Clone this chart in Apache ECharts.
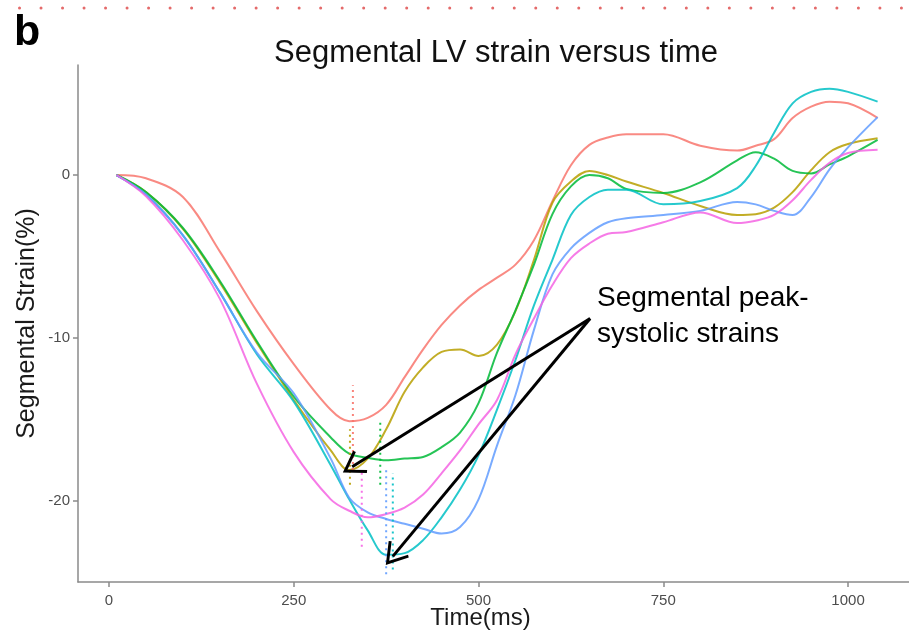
<!DOCTYPE html>
<html>
<head>
<meta charset="utf-8">
<script src="https://cdn.jsdelivr.net/npm/echarts@6/dist/echarts.min.js"></script>
<style>
html,body{margin:0;padding:0;background:#fff;}
#chart{width:909px;height:630px;}
</style>
</head>
<body>
<div id="chart"></div>
<script>
// ---- data ----
var times = [10,50,100,150,200,250,300,325,350,375,400,425,450,475,500,525,550,575,600,625,650,675,700,750,800,850,875,900,925,950,975,1000,1040];
var segNames = ['seg1','seg2','seg3','seg4','seg5','seg6'];
var segRed     = [0,-0.2,-1.35,-4.7,-8.35,-11.6,-14.4,-15.1,-14.9,-14.1,-12.4,-10.7,-9.2,-8.0,-7.05,-6.3,-5.5,-4.0,-1.6,0.6,1.85,2.3,2.5,2.5,1.8,1.5,1.8,2.2,3.5,4.2,4.5,4.4,3.5];
var segOlive   = [0,-1.05,-3.3,-6.6,-10.3,-13.8,-16.9,-18.1,-17.4,-15.6,-13.3,-11.8,-10.85,-10.7,-11.1,-10.4,-8.35,-5.2,-1.7,-0.4,0.25,0,-0.4,-1.1,-1.9,-2.45,-2.4,-2.0,-1.05,0.3,1.4,1.9,2.25];
var segGreen   = [0,-1.05,-3.25,-6.5,-10.2,-13.6,-16.1,-17.1,-17.35,-17.5,-17.4,-17.3,-16.7,-15.8,-14.0,-10.9,-8.3,-5.5,-2.4,-0.7,0,-0.2,-0.85,-1.1,-0.45,0.9,1.4,1.0,0.25,0.1,0.65,1.15,2.15];
var segCyan    = [0,-1.2,-3.7,-7.2,-11.0,-13.9,-17.8,-19.9,-21.8,-23.3,-23.2,-22.4,-21.0,-19.3,-17.2,-14.4,-11.35,-8.0,-5.2,-2.45,-1.35,-0.9,-0.9,-1.8,-1.6,-0.8,0.55,2.6,4.4,5.1,5.3,5.1,4.5];
var segBlue    = [0,-1.2,-3.7,-7.2,-10.9,-13.4,-17.4,-19.8,-20.7,-21.1,-21.4,-21.7,-22.0,-21.6,-19.9,-16.6,-13.5,-9.5,-6.1,-4.5,-3.55,-2.9,-2.65,-2.45,-2.2,-1.65,-1.8,-2.2,-2.45,-1.35,0.35,1.7,3.55];
var segMagenta = [0,-1.3,-4.0,-7.6,-12.8,-17.0,-19.9,-20.6,-21.0,-20.8,-20.4,-19.6,-18.3,-16.9,-15.3,-13.8,-11.0,-8.8,-6.75,-5.1,-4.2,-3.6,-3.5,-2.9,-2.3,-2.95,-2.8,-2.45,-1.55,-0.3,0.75,1.35,1.55];
// peak-systolic markers (time, low, high) per segment
var peakTime = [330, 326, 367, 384, 375, 342];
var peakLow  = [-18.1, -19.0, -19.0, -24.2, -24.5, -22.8];
var peakHigh = [-12.9, -15.6, -15.0, -18.3, -18.1, -18.1];
var xTicks = [0, 250, 500, 750, 1000];
var yTicks = [-20, -10, 0];
var arrowFrom = [651, -8.8];
var arrowTo1 = [329, -17.9];
var arrowTo2 = [384, -23.4];

var colors = ['#F8766D','#B79F00','#00BA38','#00BFC4','#619CFF','#F564E3'];
var segData = [segRed, segOlive, segGreen, segCyan, segBlue, segMagenta];
var FONT = 'Liberation Sans, Arial, Helvetica, sans-serif';

var series = [];
segData.forEach(function(vals, i){
  series.push({
    name: segNames[i], type: 'line', smooth: 0.35, showSymbol: false, symbol: 'none',
    data: times.map(function(t, k){ return [t, vals[k]]; }),
    lineStyle: {color: colors[i], width: 2, opacity: 0.85},
    itemStyle: {color: colors[i]}, silent: true, z: 2
  });
});
peakTime.forEach(function(t, i){
  series.push({
    type: 'line', symbol: 'none', silent: true, z: 3,
    data: [[t, peakLow[i]], [t, peakHigh[i]]],
    lineStyle: {color: colors[i], width: 2, type: [2, 4], opacity: 0.9}
  });
});
var chev = 'path://M10,0 L20,15 L18.2,16.3 L10,4 L1.8,16.3 L0,15 Z';
series.push({
  type: 'line', data: [], silent: true, z: 5,
  markLine: {
    silent: true, animation: false,
    symbol: ['none', chev], symbolSize: [26, 22],
    label: {show: false},
    lineStyle: {color: '#000', width: 3, type: 'solid'},
    data: [
      [{coord: arrowFrom}, {coord: arrowTo1}],
      [{coord: arrowFrom}, {coord: arrowTo2}]
    ]
  }
});

var chart = echarts.init(document.getElementById('chart'), null, {renderer: 'canvas'});
chart.setOption({
  animation: false,
  backgroundColor: '#fff',
  grid: {left: 78, top: 65, right: 0, bottom: 48, containLabel: false, outerBoundsMode: 'none'},
  xAxis: {
    type: 'value', min: -42, max: 1082.5,
    name: 'Time(ms)', nameLocation: 'middle', nameGap: 24, nameMoveOverlap: false,
    nameTextStyle: {fontFamily: FONT, fontSize: 24, color: '#1a1a1a', padding: [0, 26, 0, 0]},
    axisLine: {show: true, onZero: false, lineStyle: {color: '#8a8a8a', width: 1.5}},
    axisTick: {show: true, length: 5, customValues: xTicks, lineStyle: {color: '#8a8a8a', width: 1.5}},
    axisLabel: {customValues: xTicks, fontFamily: FONT, fontSize: 15, color: '#4d4d4d', margin: 11,
      formatter: function(v){ return String(v); }},
    splitLine: {show: false}
  },
  yAxis: {
    type: 'value', min: -24.97, max: 6.75,
    name: 'Segmental Strain(%)', nameLocation: 'middle', nameGap: 38, nameMoveOverlap: false,
    nameTextStyle: {fontFamily: FONT, fontSize: 25, color: '#1a1a1a'},
    axisLine: {show: true, onZero: false, lineStyle: {color: '#8a8a8a', width: 1.5}},
    axisTick: {show: true, length: 5, customValues: yTicks, lineStyle: {color: '#8a8a8a', width: 1.5}},
    axisLabel: {customValues: yTicks, fontFamily: FONT, fontSize: 15, color: '#4d4d4d', margin: 8,
      formatter: function(v){ return String(v); }},
    splitLine: {show: false}
  },
  title: {
    text: 'Segmental LV strain versus time', left: 491, top: 33, textAlign: 'center',
    textStyle: {fontFamily: FONT, fontSize: 31, fontWeight: 'normal', color: '#111'}
  },
  graphic: [
    {type: 'line', shape: {x1: -2, y1: 8, x2: 911, y2: 8}, silent: true,
     style: {stroke: '#e46a6a', lineWidth: 3, lineDash: [0.01, 21.5], lineCap: 'round', lineDashOffset: 0}},
    {type: 'text', left: 14, top: 12, silent: true,
     style: {text: 'b', font: 'bold 43px ' + FONT, fill: '#000'}},
    {type: 'text', left: 597, top: 280, silent: true,
     style: {text: 'Segmental peak-\nsystolic strains', font: '28px ' + FONT, fill: '#000', lineHeight: 36}}
  ],
  series: series
});
</script>
</body>
</html>
